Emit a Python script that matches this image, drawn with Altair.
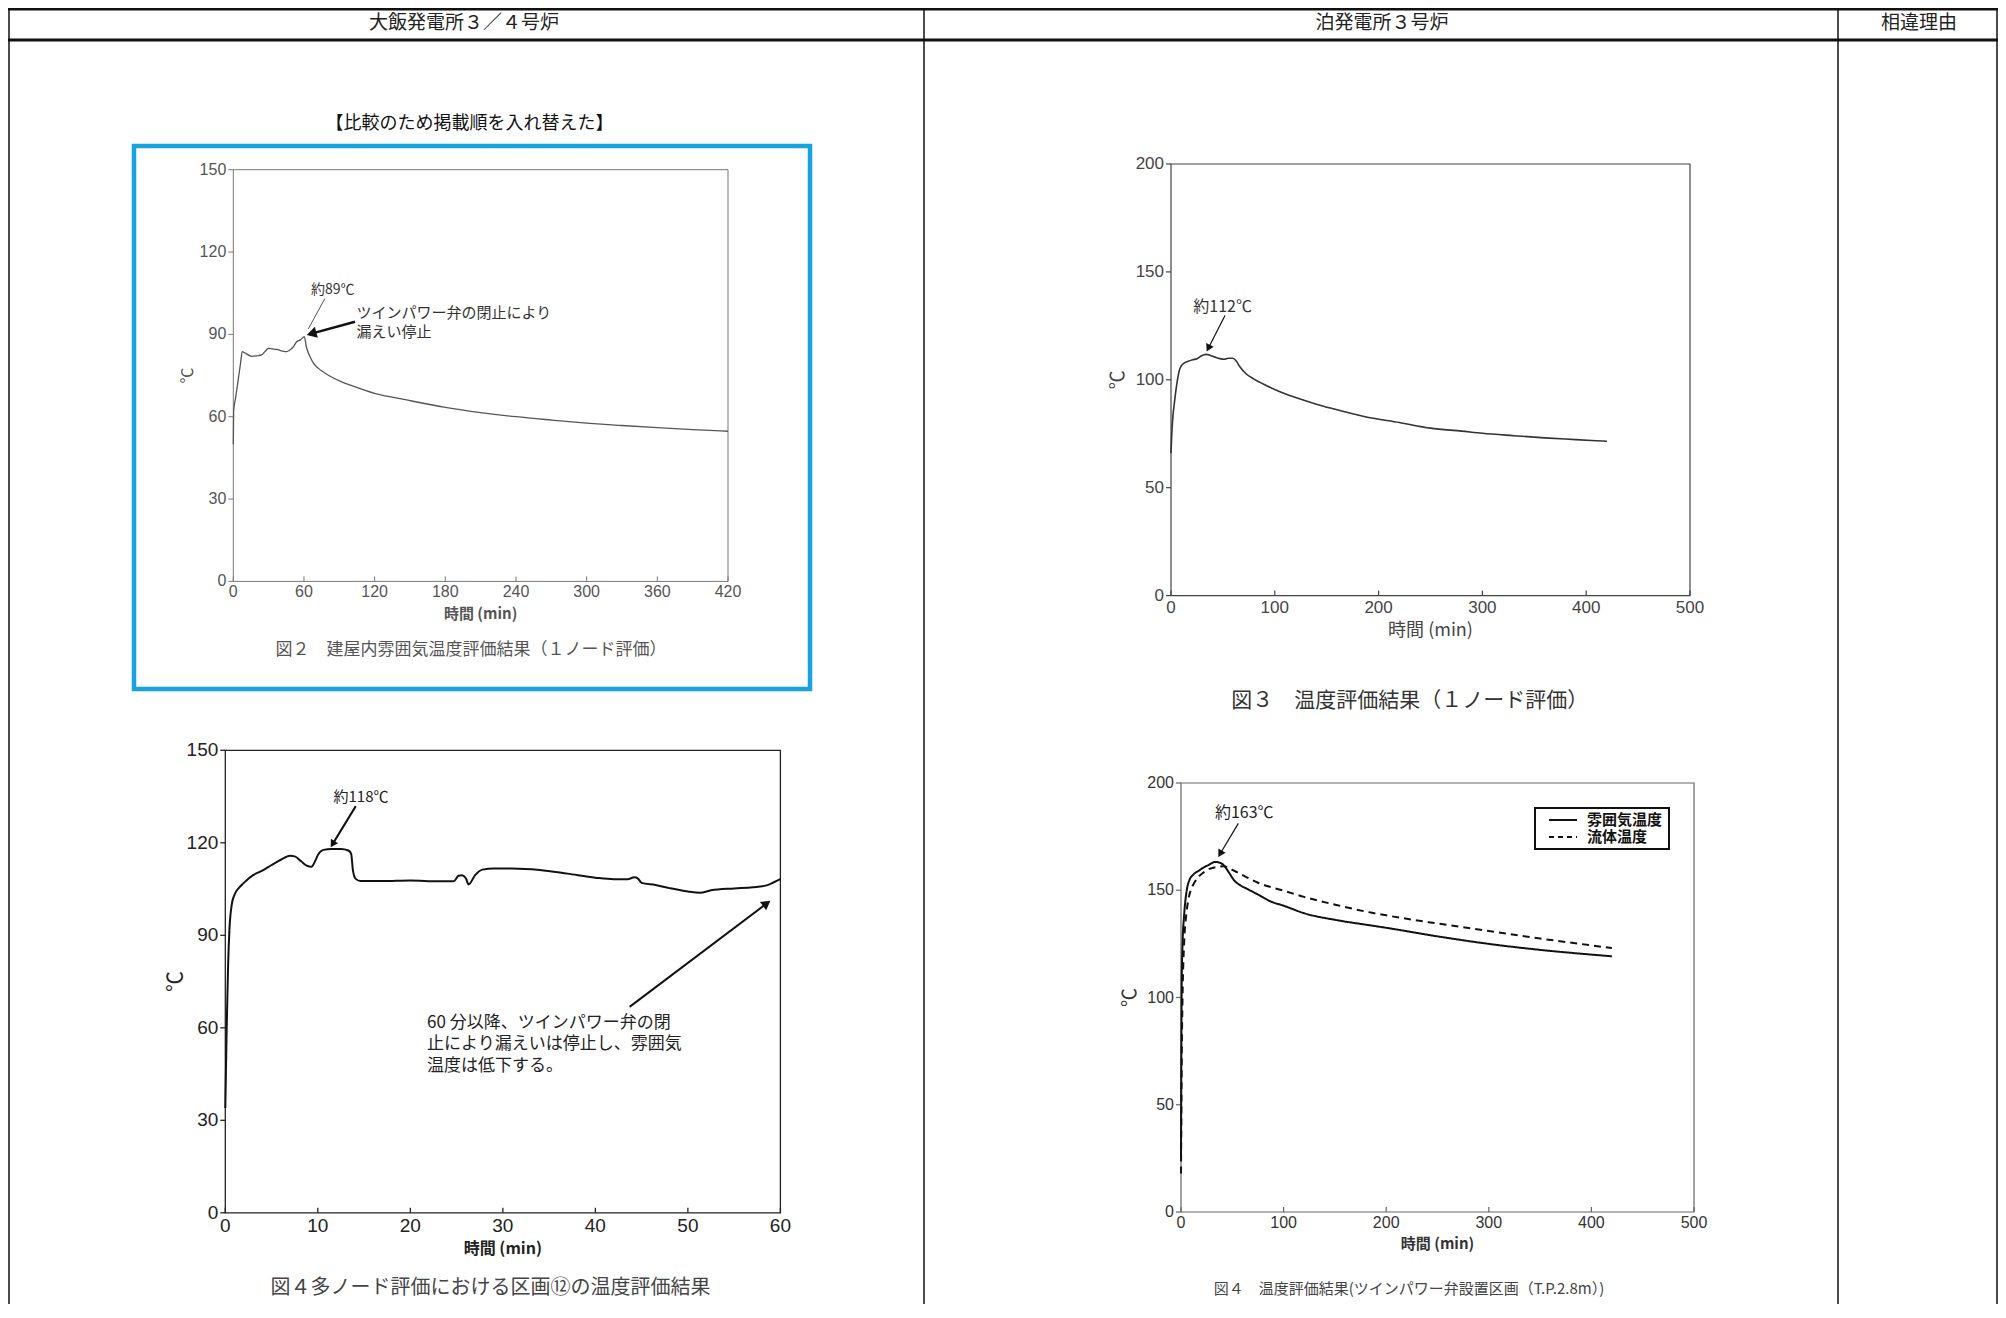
import math
import altair as alt
import pandas as pd

W, H = 1990, 1296
JP = "Noto Sans CJK JP"
NUM = "Liberation Sans Narrow, Liberation Sans, Arial, sans-serif"

# ---------------- data ----------------
# 図2 大飯 1ノード評価
c1_time = [0, 0.3, 2, 4, 6, 7.6, 10, 15.6, 20, 24, 27, 29.8, 33, 36.8, 41, 45.3, 48, 51,
           53.8, 57, 60.3, 62, 65, 68, 72, 80, 92, 100, 120, 146, 180, 210, 240, 270,
           300, 330, 360, 390, 420]
c1_temp = [50, 62, 67, 73, 79, 83.7, 83.2, 82.0, 82.2, 82.5, 83.8, 84.9, 84.7, 84.5, 84.0,
           83.7, 84.3, 85.5, 87.3, 88.0, 89.2, 85.5, 82.0, 79.5, 77.7, 75.3, 72.7, 71.4,
           68.5, 66.2, 63.4, 61.5, 60.0, 58.8, 57.7, 56.8, 56.0, 55.3, 54.7]
c1_xticks = [0, 60, 120, 180, 240, 300, 360, 420]
c1_yticks = [0, 30, 60, 90, 120, 150]

# 図4 大飯 多ノード評価 区画⑫
c2_time = [0, 0.15, 0.3, 0.45, 0.7, 1, 1.5, 2, 3, 4, 5, 6, 7, 7.5, 8.2, 8.8, 9.3, 9.7, 10,
           10.6, 11.5, 12.5, 13.3, 13.6, 13.8, 14.1, 14.6, 17, 20, 23, 24.7, 25.2, 25.6,
           26.0, 26.3, 27, 27.8, 29, 31, 34, 37, 40, 42, 43.5, 44.2, 44.6, 45, 46.5, 48,
           50, 51.3, 52.5, 55, 57, 58.5, 59.3, 60]
c2_temp = [34, 60, 80, 92, 100, 103.2, 105.5, 107, 109.5, 111, 112.8, 114.5, 115.8, 115.6,
           114, 112.6, 112.2, 114, 116, 117.7, 118, 118, 117.5, 116.5, 111, 108.3, 107.6,
           107.6, 107.8, 107.5, 107.5, 109.3, 109.5, 108.5, 106.5, 109.5, 111.3, 111.7,
           111.7, 111.2, 110, 108.7, 108.2, 108.2, 108.8, 108.4, 107, 106.3, 105.3, 104.2,
           103.8, 104.6, 105.2, 105.6, 106.2, 107.2, 108.2]
c2_xticks = [0, 10, 20, 30, 40, 50, 60]
c2_yticks = [0, 30, 60, 90, 120, 150]

# 図3 泊 1ノード評価
c3_time = [0, 0.5, 1, 2, 3.2, 5, 8, 10, 12.8, 16, 20.9, 25, 29, 33.7, 38, 43.4, 47, 51.4,
           55, 59.5, 62.7, 66, 72.3, 80, 91.6, 105, 123.7, 140, 155.9, 188, 220, 250, 280,
           300, 330, 360, 390, 420]
c3_temp = [66, 72, 77, 84, 89, 96, 104.3, 106.5, 107.8, 108.5, 109.3, 109.8, 111, 111.8,
           111.3, 110.3, 109.8, 109.5, 110, 110, 108.8, 106.3, 102.8, 100.3, 97.4, 94.5,
           91.2, 88.7, 86.6, 82.8, 80.2, 77.6, 76.2, 75.2, 74.1, 73.1, 72.3, 71.5]
c3_xticks = [0, 100, 200, 300, 400, 500]
c3_yticks = [0, 50, 100, 150, 200]

# 図4 泊 ツインパワー弁設置区画
c4_series = ["雰囲気温度", "流体温度"]
c4a_time = [0, 0.3, 0.7, 1.5, 3, 5.6, 8, 12, 17, 22, 27, 33, 38, 42, 46.4, 52, 57.8, 65,
            75, 87.3, 100, 120, 152.6, 185, 200, 250, 300, 350, 400, 420]
c4a_temp = [25, 70, 108, 125, 138, 150, 154.5, 157.3, 159, 160.6, 161.8, 163.2, 162.8,
            161.5, 158.5, 154.5, 152.3, 150.5, 148, 144.8, 142.8, 139.3, 136, 133.6,
            132.5, 128.5, 125, 122.2, 120, 119.2]
c4f_time = [0, 0.3, 0.7, 1.5, 3, 5, 7.1, 9.5, 13, 17, 22, 28.4, 35, 41.5, 45, 50, 54.6, 65,
            75, 87.3, 100, 120, 152.6, 185, 200, 250, 300, 350, 400, 420]
c4f_temp = [18, 40, 70, 100, 125, 138, 145.4, 150, 153.5, 156.2, 158.3, 160.1, 160.9,
            161.2, 160.8, 159.5, 158.4, 155.8, 153.5, 151.5, 149.8, 146.9, 143, 139.6,
            138.3, 134.5, 131, 127.5, 124.3, 123]
c4_xticks = [0, 100, 200, 300, 400, 500]
c4_yticks = [0, 50, 100, 150, 200]

headers = ["大飯発電所３／４号炉", "泊発電所３号炉", "相違理由"]
note_top = "【比較のため掲載順を入れ替えた】"
captions = ["図２　建屋内雰囲気温度評価結果（１ノード評価）",
            "図４多ノード評価における区画⑫の温度評価結果",
            "図３　温度評価結果（１ノード評価）",
            "図４　温度評価結果(ツインパワー弁設置区画（T.P.2.8m）)"]
x_title = "時間 (min)"
y_title = "℃"

# annotations (data units of each panel)
c1_notes = [(66, 106.2, "約89℃")]
c1_text = [(104.7, 97.9, "ツインパワー弁の閉止により"), (104.7, 90.7, "漏えい停止")]
c1_thin = [(77.8, 103.1, 63.7, 92.0)]
c1_arrows = [(103.3, 94.6, 62.5, 89.8, 130)]
c2_notes = [(11.7, 134.8, "約118℃")]
c2_body = [(21.8, 61.6, "60 分以降、ツインパワー弁の閉"), (21.8, 54.6, "止により漏えいは停止し、雰囲気"),
           (21.8, 47.6, "温度は低下する。")]
c2_arrows = [(14.1, 131.9, 11.4, 118.6, 70), (43.7, 66.8, 58.9, 101.2, 110)]
c3_notes = [(21.5, 133.7, "約112℃")]
c3_arrows = [(52.0, 129.8, 34.4, 113.2, 70)]
c4_notes = [(33.1, 185.9, "約163℃")]
c4_arrows = [(55.9, 181.2, 36.4, 165.6, 70)]

# ---------------- layout (pixels) ----------------
P1 = dict(xdom=[0, 420], ydom=[0, 150], xr=[225.3, 720.0], yr=[573.4, 161.7])
P2 = dict(xdom=[0, 60], ydom=[0, 150], xr=[217.3, 772.4], yr=[1204.8, 742.3])
P3 = dict(xdom=[0, 500], ydom=[0, 200], xr=[1163.0, 1682.0], yr=[587.6, 156.0])
P4 = dict(xdom=[0, 500], ydom=[0, 200], xr=[1173.0, 1686.0], yr=[1204.0, 775.0])


def to_px(p, x, y):
    xd, yd, xr, yr = p["xdom"], p["ydom"], p["xr"], p["yr"]
    return (xr[0] + (x - xd[0]) / (xd[1] - xd[0]) * (xr[1] - xr[0]),
            yr[0] + (y - yd[0]) / (yd[1] - yd[0]) * (yr[1] - yr[0]))


def from_px(p, px, py):
    xd, yd, xr, yr = p["xdom"], p["ydom"], p["xr"], p["yr"]
    return (xd[0] + (px - xr[0]) / (xr[1] - xr[0]) * (xd[1] - xd[0]),
            yd[0] + (py - yr[0]) / (yr[1] - yr[0]) * (yd[1] - yd[0]))


def arrow_df(p, arrows):
    rows = []
    for xs_, ys_, xt, yt, hs in arrows:
        x0, y0 = to_px(p, xs_, ys_)
        x1, y1 = to_px(p, xt, yt)
        dx, dy = x1 - x0, y1 - y0
        L = math.hypot(dx, dy)
        ang = math.degrees(math.atan2(dx, -dy)) % 360
        back = 0.42 * math.sqrt(hs)
        hx, hy = from_px(p, x1 - dx / L * back, y1 - dy / L * back)
        rows.append(dict(x=xs_, y=ys_, x2=hx, y2=hy, ang=ang, sz=hs))
    return pd.DataFrame(rows)


def vtext(x, y, s, size, color="#222", weight="normal", align="center", angle=0, font=JP):
    one = pd.DataFrame({"k": [0]})
    kw = dict(font=font, fontSize=size, color=color, fontWeight=weight, align=align,
              baseline="middle")
    if angle:
        kw["angle"] = angle
    return alt.Chart(one).mark_text(**kw).encode(x=alt.value(x), y=alt.value(y),
                                                 text=alt.value(s))


def panel(p, lines, st, notes=(), note_size=14, note_color="#222", thin=(), arrows=(),
          arrow_w=1.2, texts=(), text_size=16, text_color="#222"):
    xd, yd, xr, yr = p["xdom"], p["ydom"], p["xr"], p["yr"]
    xs = alt.Scale(domain=xd, range=xr, nice=False, zero=False)
    ys = alt.Scale(domain=yd, range=yr, nice=False, zero=False)
    sx = (xr[1] - xr[0]) / (xd[1] - xd[0])
    sy = (yr[0] - yr[1]) / (yd[1] - yd[0])

    def X(f):
        return alt.X(f, scale=xs, axis=None)

    def Y(f):
        return alt.Y(f, scale=ys, axis=None)

    frame_df = pd.DataFrame({"x0": [xd[0]], "x1": [xd[1]], "y0": [yd[0]], "y1": [yd[1]]})
    layers = [alt.Chart(frame_df).mark_rect(fillOpacity=0, stroke=st["axis"],
                                            strokeWidth=st["aw"]).encode(
        x=X("x0:Q"), x2="x1:Q", y=Y("y0:Q"), y2="y1:Q")]
    # ticks: x inward, y outward
    xt = pd.DataFrame({"v": st["xticks"], "a": yd[0], "b": yd[0] + 5 / sy})
    yt = pd.DataFrame({"v": st["yticks"], "a": xd[0] - 5 / sx, "b": xd[0]})
    layers.append(alt.Chart(xt).mark_rule(color=st["axis"], strokeWidth=st["aw"]).encode(
        x=X("v:Q"), y=Y("a:Q"), y2="b:Q"))
    layers.append(alt.Chart(yt).mark_rule(color=st["axis"], strokeWidth=st["aw"]).encode(
        x=X("a:Q"), x2="b:Q", y=Y("v:Q")))
    # tick labels
    xl = pd.DataFrame({"v": st["xticks"], "y": yd[0], "t": [str(v) for v in st["xticks"]]})
    yl = pd.DataFrame({"v": st["yticks"], "x": xd[0], "t": [str(v) for v in st["yticks"]]})
    layers.append(alt.Chart(xl).mark_text(baseline="top", dy=st["ldy"], font=NUM,
                                          fontSize=st["lfs"], color=st["lc"]).encode(
        x=X("v:Q"), y=Y("y:Q"), text="t:N"))
    layers.append(alt.Chart(yl).mark_text(align="right", baseline="middle", dx=-7,
                                          font=NUM, fontSize=st["lfs"],
                                          color=st["lc"]).encode(
        x=X("x:Q"), y=Y("v:Q"), text="t:N"))
    for ln in lines:
        layers.append(ln(xs, ys))
    if thin:
        tdf = pd.DataFrame(thin, columns=["x", "y", "x2", "y2"])
        layers.append(alt.Chart(tdf).mark_rule(color="#555", strokeWidth=1).encode(
            x=X("x:Q"), y=Y("y:Q"), x2="x2:Q", y2="y2:Q"))
    if arrows:
        adf = arrow_df(p, arrows)
        layers.append(alt.Chart(adf).mark_rule(color="#111", strokeWidth=arrow_w).encode(
            x=X("x:Q"), y=Y("y:Q"), x2="x2:Q", y2="y2:Q"))
        layers.append(alt.Chart(adf).mark_point(shape="triangle-up", filled=True,
                                                color="#111", opacity=1).encode(
            x=X("x2:Q"), y=Y("y2:Q"),
            angle=alt.Angle("ang:Q", scale=None), size=alt.Size("sz:Q", scale=None)))
    if notes:
        ndf = pd.DataFrame(notes, columns=["x", "y", "t"])
        layers.append(alt.Chart(ndf).mark_text(align="left", baseline="middle", font=JP,
                                               fontSize=note_size, color=note_color).encode(
            x=X("x:Q"), y=Y("y:Q"), text="t:N"))
    if texts:
        tdf = pd.DataFrame(texts, columns=["x", "y", "t"])
        layers.append(alt.Chart(tdf).mark_text(align="left", baseline="middle", font=JP,
                                               fontSize=text_size, color=text_color).encode(
            x=X("x:Q"), y=Y("y:Q"), text="t:N"))
    # axis titles
    layers.append(vtext((xr[0] + xr[1]) / 2, yr[0] + st["tdy"], x_title, st["tfs"],
                        color=st["lc"], weight=st["tfw"]))
    layers.append(vtext(xr[0] + st["ydx"], (yr[0] + yr[1]) / 2, y_title, st["yfs"],
                        color=st["lc"], angle=270))
    return alt.layer(*layers)


def line_of(times, temps, color, width):
    df = pd.DataFrame({"t": times, "v": temps})

    def f(xs, ys):
        return alt.Chart(df).mark_line(color=color, strokeWidth=width,
                                       interpolate="monotone").encode(
            x=alt.X("t:Q", scale=xs, axis=None), y=alt.Y("v:Q", scale=ys, axis=None))
    return f


def c4_lines(xs, ys):
    df = pd.concat([
        pd.DataFrame({"t": c4a_time, "v": c4a_temp, "s": c4_series[0]}),
        pd.DataFrame({"t": c4f_time, "v": c4f_temp, "s": c4_series[1]})])
    return alt.Chart(df).mark_line(color="#111", strokeWidth=2,
                                   interpolate="monotone").encode(
        x=alt.X("t:Q", scale=xs, axis=None), y=alt.Y("v:Q", scale=ys, axis=None),
        strokeDash=alt.StrokeDash("s:N", scale=alt.Scale(domain=c4_series,
                                                         range=[[1, 0], [7, 5]]),
                                  legend=None),
        detail="s:N")


S1 = dict(xticks=c1_xticks, yticks=c1_yticks, axis="#777", aw=1, lfs=16, lc="#555",
          ldy=3, tfs=15, tfw="bold", tdy=33, yfs=16, ydx=-45)
S2 = dict(xticks=c2_xticks, yticks=c2_yticks, axis="#222", aw=1.3, lfs=19, lc="#222",
          ldy=4, tfs=16, tfw="bold", tdy=36, yfs=21, ydx=-49)
S3 = dict(xticks=c3_xticks, yticks=c3_yticks, axis="#444", aw=1.2, lfs=17, lc="#444",
          ldy=4, tfs=18, tfw="normal", tdy=35, yfs=19, ydx=-53)
S4 = dict(xticks=c4_xticks, yticks=c4_yticks, axis="#666", aw=1.2, lfs=16, lc="#333",
          ldy=3, tfs=15, tfw="bold", tdy=32, yfs=19, ydx=-51)

ch1 = panel(P1, [line_of(c1_time, c1_temp, "#555", 1.3)], S1, notes=c1_notes,
            note_size=14, note_color="#333", thin=c1_thin, arrows=c1_arrows, arrow_w=2.5,
            texts=c1_text, text_size=15, text_color="#333")
ch2 = panel(P2, [line_of(c2_time, c2_temp, "#111", 2)], S2, notes=c2_notes, note_size=15,
            arrows=c2_arrows, arrow_w=2, texts=c2_body, text_size=17)
ch3 = panel(P3, [line_of(c3_time, c3_temp, "#333", 1.6)], S3, notes=c3_notes,
            note_size=16, note_color="#333", arrows=c3_arrows, arrow_w=1.2)
ch4 = panel(P4, [c4_lines], S4, notes=c4_notes, note_size=16, arrows=c4_arrows,
            arrow_w=1.2)

# ---------------- page furniture (table, box, captions, legend) ----------------
one = pd.DataFrame({"k": [0]})


def rule(x, x2, y, y2, w, color="#111"):
    return alt.Chart(one).mark_rule(color=color, strokeWidth=w).encode(
        x=alt.value(x), x2=alt.value(x2), y=alt.value(y), y2=alt.value(y2))


table = [
    rule(0, W, 1, 1, 3),
    rule(0, W, 32, 32, 3),
    rule(1, 1, 0, H, 1.5),
    rule(916, 916, 0, H, 1.5),
    rule(1830, 1830, 0, H, 1.5),
    rule(W - 1, W - 1, 0, H, 1.5),
    vtext(456, 15, headers[0], 19),
    vtext(1374, 15, headers[1], 19),
    vtext(1911, 15, headers[2], 19),
    vtext(461.5, 116, note_top, 18, color="#111"),
    alt.Chart(one).mark_rect(fillOpacity=0, stroke="#19a3de", strokeWidth=4.5).encode(
        x=alt.value(126), x2=alt.value(802), y=alt.value(138), y2=alt.value(681)),
    vtext(463, 642, captions[0], 17, color="#555"),
    vtext(482.6, 1279.8, captions[1], 20, color="#444"),
    vtext(1401.8, 693, captions[2], 21, color="#333"),
    vtext(1401, 1280.6, captions[3], 15, color="#444"),
    # legend of 図4 (泊)
    alt.Chart(one).mark_rect(fill="white", stroke="#111", strokeWidth=2).encode(
        x=alt.value(1527), x2=alt.value(1661), y=alt.value(800), y2=alt.value(841)),
    rule(1541, 1569, 812, 812, 2),
    alt.Chart(one).mark_rule(color="#111", strokeWidth=2, strokeDash=[5, 4]).encode(
        x=alt.value(1541), x2=alt.value(1569), y=alt.value(829), y2=alt.value(829)),
    vtext(1579, 812, c4_series[0], 15, color="#111", weight="bold", align="left"),
    vtext(1579, 829, c4_series[1], 15, color="#111", weight="bold", align="left"),
]

chart = alt.layer(ch1, ch2, ch3, ch4, *table).resolve_scale(
    x="independent", y="independent", strokeDash="independent"
).properties(
    width=W, height=H, padding=0, autosize=alt.AutoSizeParams(type="none"),
    background="white"
).configure_view(strokeWidth=0)

chart.save("out.html", embed_options={"renderer": "svg", "actions": False})
